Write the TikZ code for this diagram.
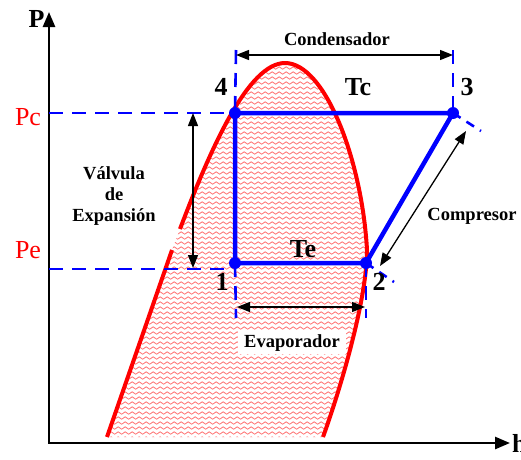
\documentclass[tikz,border=0pt]{standalone}
\usepackage{fontspec}
\setmainfont{Liberation Serif}
\usetikzlibrary{arrows.meta,decorations.pathmorphing}
\begin{document}
\begin{tikzpicture}[x=1pt,y=-1pt,
  ax/.style={line width=2.6pt,black},
  cyc/.style={line width=4.5pt,blue,line join=round},
  dsh/.style={line width=2.6pt,blue,dash pattern=on 14pt off 9pt},
  dot/.style={circle,fill=blue,inner sep=0pt,minimum size=12pt},
  dim/.style={line width=1.3pt,black,{Triangle[length=13pt,width=10pt]}-{Triangle[length=13pt,width=10pt]}},
  lab/.style={font=\fontsize{18.5}{21}\selectfont\bfseries,inner sep=0pt},
  big/.style={font=\fontsize{26}{30}\selectfont\bfseries,inner sep=0pt},
  prs/.style={font=\fontsize{26}{30}\selectfont,text=red,inner sep=0pt},
  wave/.style={red!55,line width=0.8pt,decorate,decoration={snake,amplitude=1.2pt,segment length=7pt}},
  curve/.style={red,line width=4pt}
]
\useasboundingbox (0,0) rectangle (521,459);

% hatched two-phase region
\begin{scope}
\clip (107,437) -- (172,250) -- (180,229)
  .. controls (210,150) and (248,63) .. (285,63)
  .. controls (325,63) and (362,160) .. (367,250)
  .. controls (367,300) and (340,390) .. (323,437) -- cycle;
\foreach \yy in {58,63,...,440} \draw[wave] (95,\yy) -- (385,\yy);
\end{scope}
\draw[curve] (107,437) -- (172,250);
\draw[curve] (180,229)
  .. controls (210,150) and (248,63) .. (285,63)
  .. controls (325,63) and (362,160) .. (367,250)
  .. controls (367,300) and (340,390) .. (323,437);

% axes
\coordinate (O) at (49,443);
\coordinate (Ytop) at (49,12);
\coordinate (Xend) at (510,443);
\draw[ax,{Triangle[length=15pt,width=12pt]}-{Triangle[length=15pt,width=12pt]}] (Ytop) -- (O) -- (Xend);

% cycle points
\coordinate (c4) at (235,113);
\coordinate (c3) at (453,113);
\coordinate (c2) at (366,263);
\coordinate (c1) at (235,263);

% dashed guides
\coordinate (pcL) at (49,113);
\coordinate (peL) at (49,269);
\coordinate (peR) at (233,269);
\coordinate (t4) at (236,50);
\coordinate (t3) at (453,50);
\coordinate (b1) at (236,318);
\coordinate (b2) at (366,318);
\coordinate (e3) at (481,131);
\coordinate (e2) at (394,282);
\draw[dsh] (pcL) -- (c4);
\draw[dsh] (peL) -- (peR);
\draw[dsh] (t4) -- (c4);
\draw[dsh] (t3) -- (c3);
\draw[dsh] (c1) -- (b1);
\draw[dsh] (c2) -- (b2);
\draw[dsh,dash pattern=on 9pt off 7pt] (c3) -- (e3);
\draw[dsh,dash pattern=on 9pt off 7pt] (c2) -- (e2);

% dimension arrows
\coordinate (cdL) at (236,55);
\coordinate (cdR) at (453,55);
\coordinate (evL) at (237,307);
\coordinate (evR) at (365,307);
\coordinate (vvT) at (193,113);
\coordinate (vvB) at (193,268);
\coordinate (cpA) at (466,131);
\coordinate (cpB) at (380,266);
\draw[dim] (cdL) -- (cdR);
\draw[dim] (evL) -- (evR);
\draw[dim] (vvT) -- (vvB);
\draw[dim] (cpA) -- (cpB);

% cycle
\draw[cyc] (c4) -- (c3) -- (c2) -- (c1) -- cycle;
\node[dot] (d4) at (c4) {};
\node[dot] (d3) at (c3) {};
\node[dot] (d2) at (c2) {};
\node[dot] (d1) at (c1) {};

% labels
\node[big,anchor=base] (P) at (36.5,27) {P};
\node[prs,anchor=base] (Pc) at (28,125) {Pc};
\node[prs,anchor=base] (Pe) at (28,258) {Pe};
\node[lab,anchor=base] (cond) at (337,45) {Condensador};
\node[big,anchor=base] (Tc) at (358,95) {Tc};
\node[big,anchor=base] (n3) at (467,95) {3};
\node[big,anchor=base] (n4) at (221,95) {4};
\node[lab,align=center] (valv) at (114,196) {Válvula\\de\\Expansión};
\node[lab,anchor=base] (comp) at (472,220) {Compresor};
\node[big,anchor=base] (Te) at (303,257) {Te};
\node[big,anchor=base] (n1) at (222,290) {1};
\node[big,anchor=base] (n2) at (379,290) {2};
\node[lab,anchor=base,fill=white,inner xsep=6pt,inner ysep=3pt] (evap) at (292,347) {Evaporador};
\node[big,anchor=base west] (h) at (512,452) {h};
\end{tikzpicture}
\end{document}
